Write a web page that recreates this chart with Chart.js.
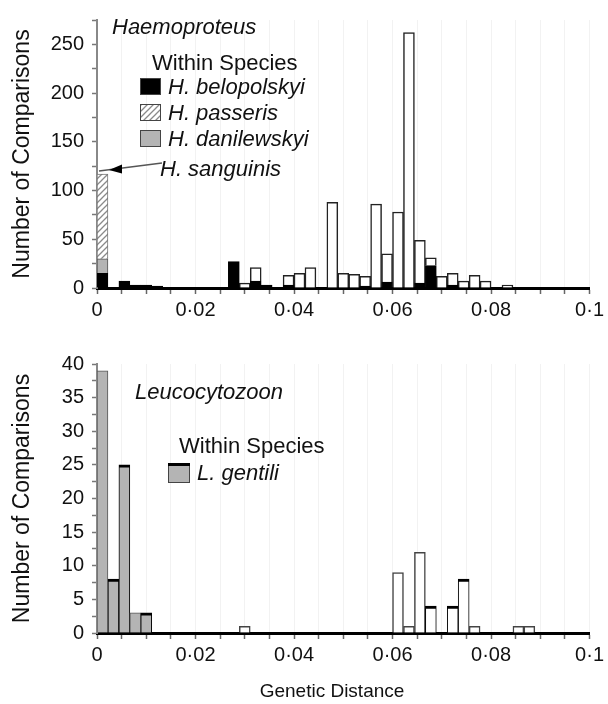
<!DOCTYPE html>
<html>
<head>
<meta charset="utf-8">
<script src="https://cdn.jsdelivr.net/npm/chart.js@4.4.0/dist/chart.umd.min.js"></script>
<style>
html, body { margin: 0; padding: 0; background: #fff; }
#wrap { position: relative; width: 608px; height: 704px; overflow: hidden; }
canvas { position: absolute; left: 0; }
</style>
</head>
<body>
<div id="wrap">
  <canvas id="haemoChart" width="608" height="340" style="top:0px"></canvas>
  <canvas id="leucoChart" width="608" height="364" style="top:340px"></canvas>
</div>
<script>
// Histogram bins of genetic distance (45 bins over 0 - 0.1, only the first 40 used)
const binWidth = 0.1 / 45;
const binCenters = [...Array(40).keys()].map(i => binWidth * (i + 0.5));

const xTickValues = [0, 0.02, 0.04, 0.06, 0.08, 0.1];
const xTickLabels = ['0', '0·02', '0·04', '0·06', '0·08', '0·1'];
const yTicksHaemo = [0, 50, 100, 150, 200, 250];
const yTicksLeuco = [0, 5, 10, 15, 20, 25, 30, 35, 40];

// Haemoproteus: counts per bin
const hBelopolskyi = [15, 0, 7, 3, 3, 2, 0, 0, 0, 0, 0, 0, 27, 0, 7, 3, 0, 3, 0, 0,
                      0, 0, 0, 0, 2, 0, 6, 0, 0, 5, 23, 0, 3, 0, 0, 0, 0, 0, 0, 0];
const hDanilewskyi = [15, 0, 0, 0, 0, 0, 0, 0, 0, 0, 0, 0, 0, 0, 0, 0, 0, 0, 0, 0,
                      0, 0, 0, 0, 0, 0, 0, 0, 0, 0, 0, 0, 0, 0, 0, 0, 0, 0, 0, 0];
const hPasseris    = [87, 0, 0, 0, 0, 0, 0, 0, 0, 0, 0, 0, 0, 0, 0, 0, 0, 0, 0, 0,
                      0, 0, 0, 0, 0, 0, 0, 0, 0, 0, 0, 0, 0, 0, 0, 0, 0, 0, 0, 0];
const hBetween     = [0, 0, 0, 0, 0, 0, 0, 0, 0, 0, 0, 0, 0, 5, 14, 0, 0, 10, 15, 21,
                      0, 88, 15, 14, 10, 86, 29, 78, 262, 44, 8, 12, 12, 7, 13, 7, 0, 3, 0, 0];

// Leucocytozoon: counts per bin
const lGentili = [39, 8, 25, 3, 3, 0, 0, 0, 0, 0, 0, 0, 0, 0, 0, 0, 0, 0, 0, 0,
                  0, 0, 0, 0, 0, 0, 0, 0, 0, 0, 0, 0, 0, 0, 0, 0, 0, 0, 0, 0];
const lBetween = [0, 0, 0, 0, 0, 0, 0, 0, 0, 0, 0, 0, 0, 1, 0, 0, 0, 0, 0, 0,
                  0, 0, 0, 0, 0, 0, 0, 9, 1, 12, 4, 0, 4, 8, 1, 0, 0, 0, 1, 1];
// bins whose bar carries a dark top edge in the original
const lDarkTop = [1, 2, 4, 30, 32, 33];

const FONT = '"Liberation Sans", Arial, sans-serif';
const GRAY = '#b4b4b4';

function hatchPattern(ctx) {
    const c = document.createElement('canvas');
    c.width = 6; c.height = 6;
    const g = c.getContext('2d');
    g.fillStyle = '#fff';
    g.fillRect(0, 0, 6, 6);
    g.strokeStyle = '#8a8a8a';
    g.lineWidth = 1.3;
    g.beginPath();
    g.moveTo(0, 6); g.lineTo(6, 0);
    g.moveTo(-3, 3); g.lineTo(3, -3);
    g.moveTo(3, 9); g.lineTo(9, 3);
    g.stroke();
    return ctx.createPattern(c, 'repeat');
}

const nz = arr => arr.map(v => v === 0 ? null : v);

function xAxis(height) {
    return {
        type: 'linear',
        min: 0,
        max: 0.1,
        offset: false,
        stacked: true,
        afterFit: s => { s.height = height; },
        grid: {
            offset: false,
            drawOnChartArea: true,
            color: 'rgba(0,0,0,0.05)',
            drawTicks: true,
            tickLength: 6,
            tickColor: '#666',
            tickWidth: 1.5
        },
        border: { color: '#000', width: 3 },
        ticks: {
            stepSize: 0.005,
            autoSkip: false,
            maxRotation: 0,
            padding: 4,
            color: '#111',
            font: { family: FONT, size: 20 },
            callback: v => {
                const k = xTickValues.findIndex(t => Math.abs(t - v) < 1e-6);
                return k >= 0 ? xTickLabels[k] : '';
            }
        },
        title: { display: false }
    };
}

function yAxis(max, step, labels) {
    return {
        min: 0,
        max: max,
        stacked: true,
        afterFit: s => { s.width = 97; },
        grid: { drawOnChartArea: false, drawTicks: true, tickLength: 5, tickColor: '#777', tickWidth: 1.5 },
        border: { color: '#888', width: 2 },
        ticks: {
            stepSize: step,
            autoSkip: false,
            padding: 8,
            color: '#111',
            font: { family: FONT, size: 20 },
            callback: v => labels.includes(v) ? String(v) : ''
        },
        title: {
            display: true,
            text: 'Number of Comparisons',
            color: '#111',
            font: { family: FONT, size: 23 },
            padding: { top: 9, bottom: 0 }
        }
    };
}

// Haemoproteus chart
const hCtx = document.getElementById('haemoChart').getContext('2d');
const hatch = hatchPattern(hCtx);

const haemoNotes = {
    id: 'haemoNotes',
    afterDraw(chart) {
        const ctx = chart.ctx;
        ctx.save();
        ctx.fillStyle = '#111';
        ctx.textBaseline = 'alphabetic';
        ctx.font = 'italic 22px ' + FONT;
        ctx.fillText('Haemoproteus', 112, 34);
        ctx.font = '22px ' + FONT;
        ctx.fillText('Within Species', 152, 70);

        const rows = [
            { fill: '#000', text: 'H. belopolskyi', y: 78 },
            { fill: hatch, text: 'H. passeris', y: 104 },
            { fill: GRAY, text: 'H. danilewskyi', y: 130 }
        ];
        ctx.font = 'italic 22px ' + FONT;
        rows.forEach(r => {
            ctx.fillStyle = r.fill;
            ctx.fillRect(140, r.y, 20, 16);
            ctx.strokeStyle = '#444';
            ctx.lineWidth = 1;
            ctx.strokeRect(140.5, r.y + 0.5, 20, 16);
            ctx.fillStyle = '#111';
            ctx.fillText(r.text, 168, r.y + 16);
        });

        // H. sanguinis label with arrow
        ctx.fillText('H. sanguinis', 160, 176);
        ctx.strokeStyle = '#555';
        ctx.lineWidth = 1.5;
        ctx.beginPath();
        ctx.moveTo(99, 171);
        ctx.lineTo(162, 163);
        ctx.stroke();
        ctx.fillStyle = '#000';
        ctx.beginPath();
        ctx.moveTo(109, 170);
        ctx.lineTo(122, 164.5);
        ctx.lineTo(122, 173.5);
        ctx.closePath();
        ctx.fill();
        ctx.restore();
    }
};

new Chart(hCtx, {
    type: 'bar',
    data: {
        labels: binCenters,
        datasets: [
            { label: 'H. belopolskyi', data: nz(hBelopolskyi), backgroundColor: '#000', borderColor: '#000', borderWidth: 1 },
            { label: 'H. danilewskyi', data: nz(hDanilewskyi), backgroundColor: GRAY, borderColor: '#555', borderWidth: 1 },
            { label: 'H. passeris', data: nz(hPasseris), backgroundColor: hatch, borderColor: '#777', borderWidth: 1 },
            { label: 'Between species', data: nz(hBetween), backgroundColor: '#fff', borderColor: '#222', borderWidth: 1.5 }
        ]
    },
    options: {
        responsive: false,
        animation: false,
        barPercentage: 1,
        categoryPercentage: 1,
        layout: { padding: { top: 12, right: 13, left: 0, bottom: 0 } },
        scales: {
            x: xAxis(52),
            y: yAxis(275, 25, yTicksHaemo)
        },
        plugins: { legend: { display: false }, tooltip: { enabled: false } }
    },
    plugins: [haemoNotes]
});

// Leucocytozoon chart
const lCtx = document.getElementById('leucoChart').getContext('2d');

const leucoNotes = {
    id: 'leucoNotes',
    afterDraw(chart) {
        const ctx = chart.ctx;
        ctx.save();
        ctx.fillStyle = '#111';
        ctx.font = 'italic 22px ' + FONT;
        ctx.fillText('Leucocytozoon', 135, 59);
        ctx.font = '22px ' + FONT;
        ctx.fillText('Within Species', 179, 113);
        // swatch
        ctx.fillStyle = GRAY;
        ctx.fillRect(168, 124, 21, 18);
        ctx.strokeStyle = '#444';
        ctx.lineWidth = 1;
        ctx.strokeRect(168.5, 124.5, 21, 18);
        ctx.fillStyle = '#000';
        ctx.fillRect(168, 123, 22, 3);
        ctx.fillStyle = '#111';
        ctx.font = 'italic 22px ' + FONT;
        ctx.fillText('L. gentili', 197, 140);
        ctx.font = '19px ' + FONT;
        ctx.textAlign = 'center';
        ctx.fillText('Genetic Distance', 332, 357);
        ctx.restore();
    }
};

const darkTop = (ctx, base) => lDarkTop.includes(ctx.dataIndex)
    ? { top: 3, left: 1, right: 1, bottom: 0 } : base;

new Chart(lCtx, {
    type: 'bar',
    data: {
        labels: binCenters,
        datasets: [
            { label: 'L. gentili', data: nz(lGentili), backgroundColor: GRAY,
              borderColor: c => lDarkTop.includes(c.dataIndex) ? '#000' : '#555',
              borderWidth: c => darkTop(c, 1) },
            { label: 'Between species', data: nz(lBetween), backgroundColor: '#fff',
              borderColor: c => lDarkTop.includes(c.dataIndex) ? '#000' : '#444',
              borderWidth: c => darkTop(c, 1.5) }
        ]
    },
    options: {
        responsive: false,
        animation: false,
        barPercentage: 1,
        categoryPercentage: 1,
        layout: { padding: { top: 24, right: 13, left: 0, bottom: 0 } },
        scales: {
            x: xAxis(71),
            y: yAxis(40, 2.5, yTicksLeuco)
        },
        plugins: { legend: { display: false }, tooltip: { enabled: false } }
    },
    plugins: [leucoNotes]
});
</script>
</body>
</html>
